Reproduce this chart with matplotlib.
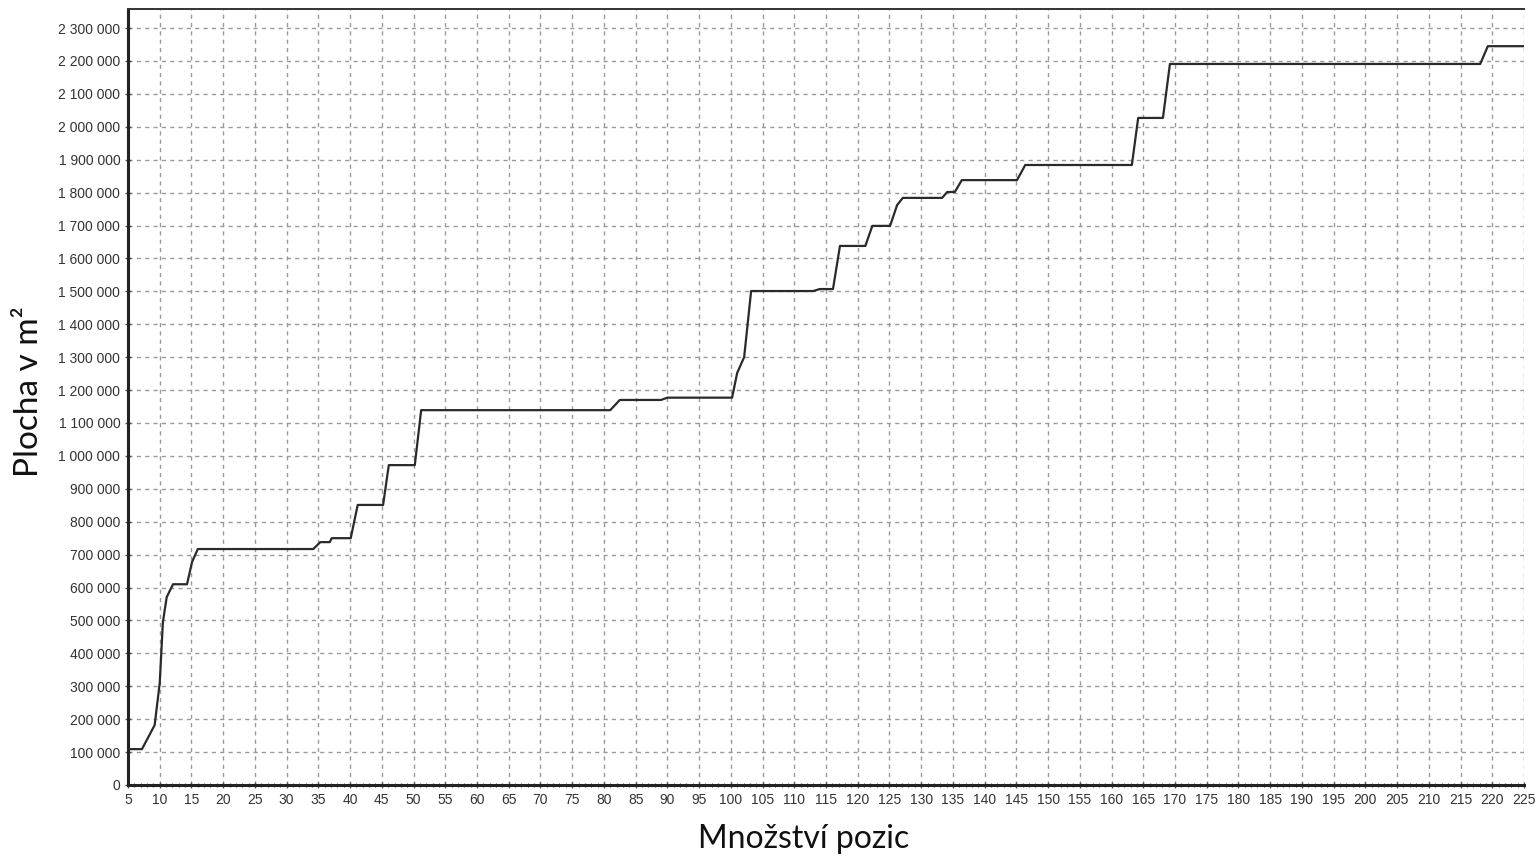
import matplotlib
matplotlib.use("Agg")
import matplotlib.pyplot as plt
from matplotlib.ticker import FuncFormatter, MultipleLocator

# Breakpoints of the curve
positions = [5, 7.2, 9.2, 10.0, 10.5, 11.1, 12.1, 14.3, 15.1, 16.0,
             34.2, 35.3, 36.8, 37.1, 40.1, 41.2, 45.2, 46.1, 50.2, 51.2,
             81.0, 82.5, 89.0, 90.0, 100.2, 101.0, 102.1, 103.2,
             113.0, 114.0, 116.1, 117.2, 121.2, 122.3, 125.1, 126.2, 127.1,
             133.3, 134.1, 135.3, 136.4, 145.1, 146.4, 163.2, 164.2, 168.1,
             169.2, 218.1, 219.3, 225]
area = [109000, 109000, 182000, 310000, 495000, 571000, 610000, 610000, 678000, 717000,
        717000, 738000, 738000, 750000, 750000, 851000, 851000, 972000, 972000, 1139000,
        1139000, 1170000, 1170000, 1177000, 1177000, 1252000, 1300000, 1501000,
        1501000, 1507000, 1507000, 1638000, 1638000, 1699000, 1699000, 1762000, 1784000,
        1784000, 1802000, 1802000, 1838000, 1838000, 1884000, 1884000, 2027000, 2027000,
        2191000, 2191000, 2245000, 2245000]

x_label = "Množství pozic"
y_label = "Plocha v m²"

fig = plt.figure(figsize=(15.39, 8.58), dpi=100)
ax = fig.add_axes([128/1539, 1-785/858, (1524-128)/1539, (785-9)/858])

ax.plot(positions, area, color="#2a2a2a", lw=1.6, zorder=3)

ax.set_xlim(5, 225)
ax.set_ylim(0, 2358000)
ax.xaxis.set_major_locator(MultipleLocator(5))
ax.xaxis.set_minor_locator(MultipleLocator(1))
ax.yaxis.set_major_locator(MultipleLocator(100000))
ax.yaxis.set_major_formatter(FuncFormatter(lambda v, p: f"{v:,.0f}".replace(",", " ")))

ax.grid(True, which="major", color="#9a9a9a", linestyle=(0, (3, 3)), linewidth=1.0, zorder=1)

for s in ["left", "bottom"]:
    ax.spines[s].set_linewidth(2.2)
    ax.spines[s].set_color("#222222")
ax.spines["top"].set_linewidth(1.4)
ax.spines["top"].set_color("#333333")
ax.spines["right"].set_visible(False)

ax.tick_params(axis="both", which="major", length=4, width=1, color="#555555",
               labelsize=10, labelcolor="#333333", direction="inout")
ax.tick_params(axis="x", which="minor", length=3, width=0.8, color="#555555", direction="inout")
for lbl in ax.get_xticklabels() + ax.get_yticklabels():
    lbl.set_family(["Liberation Sans", "DejaVu Sans"])

ax.set_xlabel(x_label, fontsize=23, family=["Lato", "DejaVu Sans"], color="#111111")
ax.set_ylabel(y_label, fontsize=24, family=["Lato", "DejaVu Sans"], color="#111111")
ax.xaxis.set_label_coords((804 - 128) / 1396, -(848 - 785) / 776)
ax.xaxis.label.set_va("baseline")
ax.yaxis.set_label_coords(-(128 - 38) / 1396, (785 - 392) / 776)
ax.yaxis.label.set_va("baseline")

fig.savefig("out.png", dpi=100, facecolor="white")
